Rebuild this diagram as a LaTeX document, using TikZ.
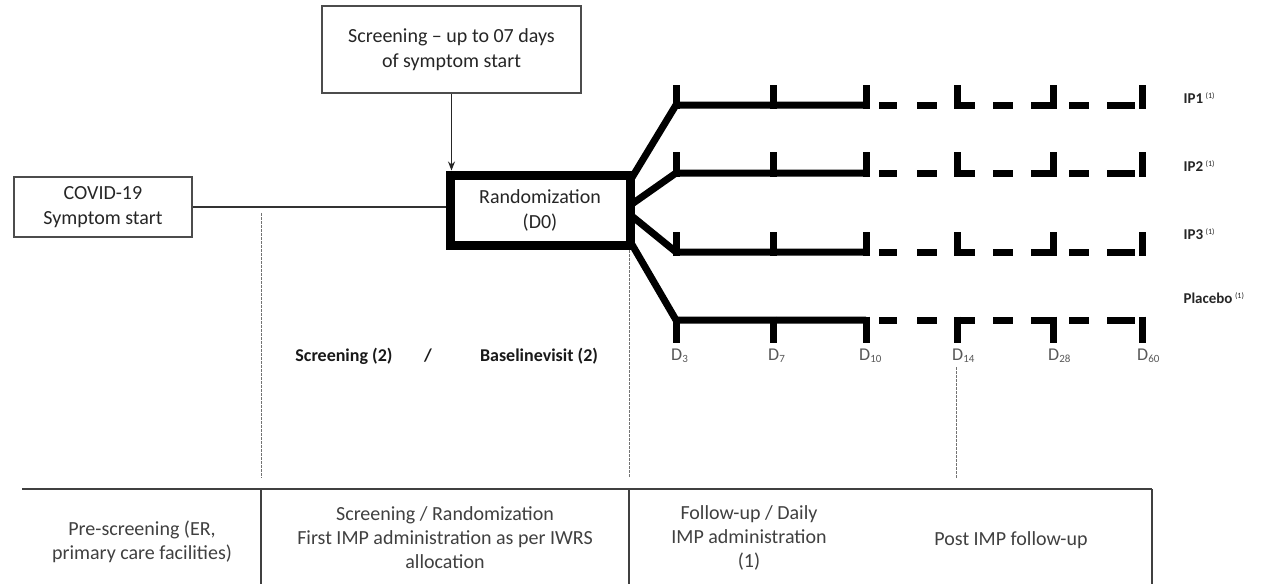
\documentclass[tikz,border=0pt]{standalone}
\usepackage{fontspec}
\setmainfont{Carlito}
\usetikzlibrary{arrows.meta}
\newcommand{\dlab}[1]{D\raisebox{-2.5pt}{\fontsize{11}{11}\selectfont #1}}
\newcommand{\ipsup}{\,\raisebox{5.5pt}{\fontsize{8}{8}\selectfont\mdseries (1)}}
\begin{document}
\begin{tikzpicture}[x=1pt,y=-1pt,
  thinbox/.style={draw=black!70, line width=1.3pt, fill=white, align=center, text=black!85, font=\fontsize{20}{24.5}\selectfont, inner sep=0pt},
  randbox/.style={draw=black, line width=9pt, fill=white, align=center, text=black!85, font=\fontsize{20}{25}\selectfont, inner sep=0pt, minimum width=180pt, minimum height=70pt},
  linkln/.style={draw=black!80, line width=1.5pt},
  guideln/.style={draw=black!55, line width=0.9pt, dash pattern=on 2.5pt off 1.5pt},
  branchln/.style={draw=black, line width=7pt, line join=round},
  tickmk/.style={draw=black, line width=7pt},
  dashseg/.style={draw=black, line width=7pt},
  tablerule/.style={draw=black!75, line width=1.5pt},
  cellt/.style={align=center, text=black!75, font=\fontsize{20}{24}\selectfont},
  phaselab/.style={font=\bfseries\fontsize{18}{20}\selectfont, text=black!90},
  armlab/.style={anchor=west, font=\bfseries\fontsize{15}{17}\selectfont, text=black!85},
  daylab/.style={anchor=base west, font=\fontsize{18}{20}\selectfont, text=black!65, inner sep=0pt}
]
\useasboundingbox (0,0) rectangle (1266,584);
\fill[white] (0,0) rectangle (1266,584);

% boxes
\node[thinbox, minimum width=259pt, minimum height=87pt] (scr) at (451.5,49.5) {Screening -- up to 07 days\\of symptom start};
\node[thinbox, minimum width=178pt, minimum height=60pt] (covid) at (103,207) {COVID-19\\Symptom start};
\node[randbox] (rand) at (540,210) {Randomization\\(D0)};

% connectors
\draw[-{Stealth[length=9pt,width=7pt]}, draw=black!85, line width=1.2pt] (scr.south) -- (scr.south |- rand.north);
\draw[linkln] (covid.east) -- (covid.east -| rand.west);

% guide lines
\draw[guideln] (261,213) -- (261,478);
\draw[guideln] (629,250) -- (629,478);
\draw[guideln] (956,367) -- (956,478);

% branch ends
\coordinate (a1) at (676,105);
\coordinate (a2) at (676,173);
\coordinate (a3) at (676,252);
\coordinate (a4) at (676,320);
\coordinate (e1) at (866,105);
\coordinate (e2) at (866,173);
\coordinate (e3) at (866,252);
\coordinate (e4) at (866,320);

\draw[branchln] ([xshift=-4pt,yshift=30pt]rand.east) -- (a1) -- (e1);
\draw[branchln] ([xshift=-4pt,yshift=5pt]rand.east) -- (a2) -- (e2);
\draw[branchln] ([xshift=-4pt,yshift=-5pt]rand.east) -- (a3) -- (e3);
\draw[branchln] ([xshift=-4pt,yshift=-32pt]rand.east) -- (a4) -- (e4);

% ticks and dashes for IP arms
\foreach \yy/\tt in {105/85,173/152,252/232}{
  \foreach \x in {676,773,866,957,1053,1142}
    \draw[tickmk] (\x,\yy+3.5) -- (\x,\tt);
  \foreach \a/\b in {879/897,917/937,955/975,993/1013,1031/1053,1069/1089,1107/1135}
    \draw[dashseg] (\a,\yy) -- (\b,\yy);
}
% placebo arm
\foreach \x in {676,773,866,957,1053,1142}
  \draw[tickmk] (\x,316.5) -- (\x,343);
\foreach \a/\b in {879/897,917/937,955/975,993/1013,1031/1053,1069/1089,1107/1135}
  \draw[dashseg] (\a,320) -- (\b,320);

% arm labels
\node[armlab] (l1) at (1180,98) {IP1\ipsup};
\node[armlab] (l2) at (1180,166) {IP2\ipsup};
\node[armlab] (l3) at (1180,234) {IP3\ipsup};
\node[armlab] (l4) at (1180,298) {Placebo\ipsup};

% day labels
\node[daylab] (d3) at (671,360) {\dlab{3}};
\node[daylab] (d7) at (768,360) {\dlab{7}};
\node[daylab] (d10) at (859,360) {\dlab{10}};
\node[daylab] (d14) at (952,360) {\dlab{14}};
\node[daylab] (d28) at (1048,360) {\dlab{28}};
\node[daylab] (d60) at (1137,360) {\dlab{60}};

% phase labels
\node[phaselab] (p1) at (344,356) {Screening (2)};
\node[phaselab] (p2) at (428,356) {/};
\node[phaselab] (p3) at (539,356) {Baselinevisit (2)};

% bottom table
\draw[tablerule] (22,489) -- (1152,489);
\draw[tablerule] (261,489) -- (261,584);
\draw[tablerule] (629,489) -- (629,584);
\draw[tablerule] (1152,489) -- (1152,584);

\node[cellt] (c1) at (142,542) {Pre-screening (ER,\\primary care facilities)};
\node[cellt] (c2) at (445,538) {Screening / Randomization\\First IMP administration as per IWRS\\allocation};
\node[cellt] (c3) at (749,538) {Follow-up / Daily\\IMP administration\\(1)};
\node[cellt] (c4) at (1011,540) {Post IMP follow-up};
\end{tikzpicture}
\end{document}
